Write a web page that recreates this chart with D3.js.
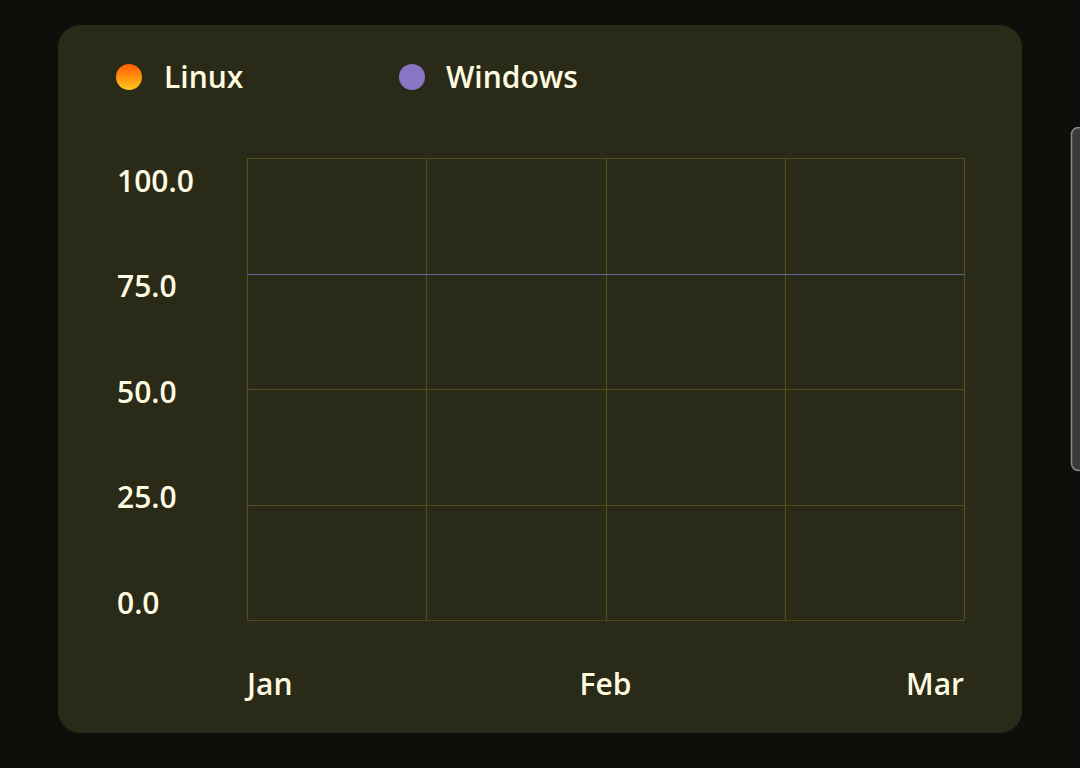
<!DOCTYPE html>
<html><head><meta charset="utf-8">
<script src="https://cdn.jsdelivr.net/npm/d3@7"></script>
<style>
html,body{margin:0;padding:0;background:#0e0e0b;width:1080px;height:768px;overflow:hidden;}
svg{display:block;}
</style></head><body>
<svg id="c" width="1080" height="768"></svg>
<script>
const categories = ["Jan", "Feb", "Mar"];
const seriesNames = ["Linux", "Windows"];
const linuxValues = [75, 75, 75];
const windowsValues = [75, 75, 75];
const yTicks = [0, 25, 50, 75, 100];
const xGridCount = 5;

(function(){
const svg = d3.select("#c");
const defs = svg.append("defs");
const g1 = defs.append("linearGradient").attr("id","lg").attr("x1",0).attr("y1",0).attr("x2",0).attr("y2",1);
g1.append("stop").attr("offset","0%").attr("stop-color","#ff5a00");
g1.append("stop").attr("offset","100%").attr("stop-color","#ffc81e");

// card
svg.append("rect").attr("x",58).attr("y",25).attr("width",964).attr("height",708)
  .attr("rx",22).attr("fill","#2a2a18");

// scrollbar
svg.append("rect").attr("x",1071.5).attr("y",127.5).attr("width",14).attr("height",343)
  .attr("rx",7).attr("fill","#3a3a3a").attr("stroke","#8a8a8a").attr("stroke-width",1.5);

const pl = 247, pr = 964, pt = 158, pb = 620;
const x = d3.scalePoint().domain(categories).range([pl, pr]);
const y = d3.scaleLinear().domain([0,100]).range([pb, pt]);
const yLab = d3.scaleLinear().domain([0,100]).range([603, 181]);
const xg = d3.scaleLinear().domain([0, xGridCount-1]).range([pl, pr]);

const grid = svg.append("g").attr("stroke","#50501d").attr("stroke-width",1.2);
grid.selectAll("line.h").data(yTicks).join("line").attr("class","h")
  .attr("x1",pl).attr("x2",pr).attr("y1",d=>Math.round(y(d))+0.5).attr("y2",d=>Math.round(y(d))+0.5);
grid.selectAll("line.v").data(d3.range(xGridCount)).join("line").attr("class","v")
  .attr("y1",pt).attr("y2",pb).attr("x1",d=>Math.round(xg(d))+0.5).attr("x2",d=>Math.round(xg(d))+0.5);

const font = "'Open Sans', 'DejaVu Sans', sans-serif";
svg.append("g").selectAll("text").data(yTicks).join("text")
  .attr("x",117).attr("y",d=>yLab(d)).attr("dy","0.35em")
  .attr("fill","#fffbe0").attr("font-family",font).attr("font-size",30).attr("font-weight",600)
  .text(d=>d3.format(".1f")(d));

svg.append("g").selectAll("text").data(categories).join("text")
  .attr("x",d=>x(d)).attr("y",695)
  .attr("text-anchor",(d,i)=>i===0?"start":(i===categories.length-1?"end":"middle"))
  .attr("fill","#fffbe0").attr("font-family",font).attr("font-size",30).attr("font-weight",600)
  .text(d=>d);

const line = d3.line().x((d,i)=>x(categories[i])).y(d=>Math.round(y(d))+0.5);
svg.append("path").datum(linuxValues).attr("d",line).attr("fill","none")
  .attr("stroke","#ff9a10").attr("stroke-width",1);
svg.append("path").datum(windowsValues).attr("d",line).attr("fill","none")
  .attr("stroke","#66649e").attr("stroke-width",1.2);

// legend
const legend = [
  {name: seriesNames[0], fill: "url(#lg)", cx: 129, tx: 164},
  {name: seriesNames[1], fill: "#8676c4", cx: 412, tx: 446}
];
const lg = svg.append("g").selectAll("g").data(legend).join("g");
lg.append("circle").attr("cx",d=>d.cx).attr("cy",77).attr("r",13).attr("fill",d=>d.fill);
lg.append("text").attr("x",d=>d.tx).attr("y",77).attr("dy","0.36em")
  .attr("fill","#fffbe0").attr("font-family",font).attr("font-size",30).attr("font-weight",600)
  .text(d=>d.name);
})();
</script>
</body></html>
